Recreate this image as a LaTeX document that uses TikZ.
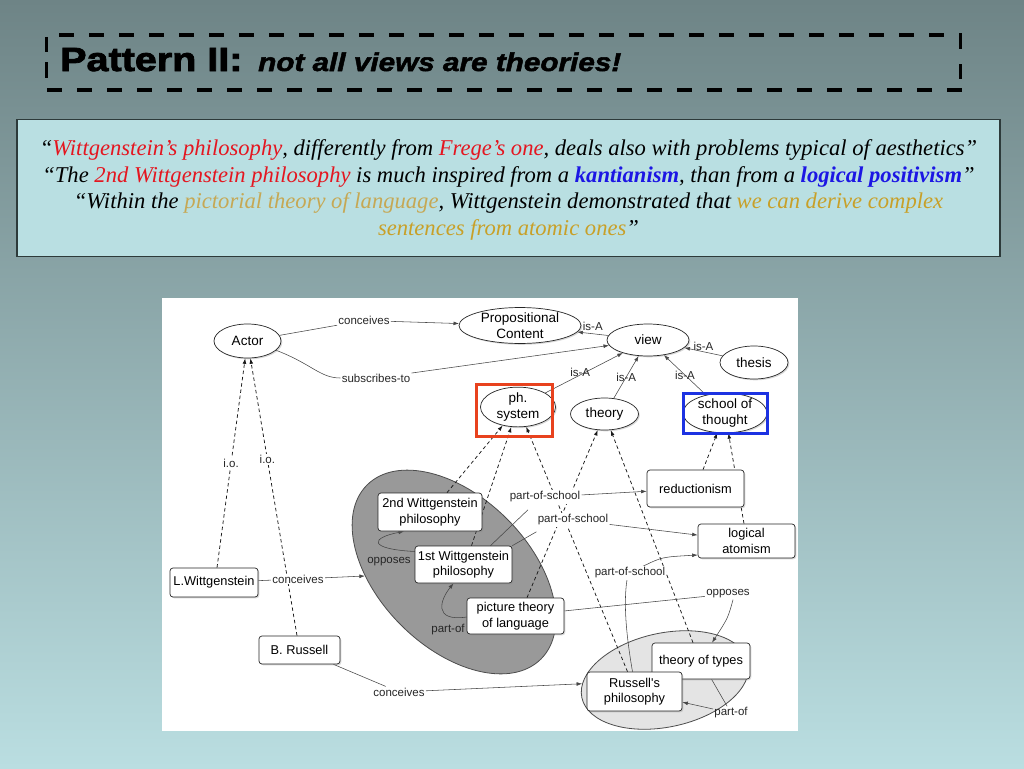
\documentclass[tikz,border=0pt]{standalone}
\usepackage{fontspec}
\setmainfont{Liberation Serif}
\newfontfamily\hv{Liberation Sans}
\newfontfamily\titlefont[FakeStretch=1.18,FakeBold=2.5]{Liberation Sans}
\newfontfamily\titleitfont[FakeStretch=1.16,FakeBold=2]{Liberation Sans}
\usetikzlibrary{shapes.geometric,arrows.meta,shadows}
\definecolor{bgtop}{RGB}{110,132,134}
\definecolor{bgbot}{RGB}{186,222,225}
\definecolor{boxfill}{RGB}{185,223,226}
\definecolor{boxline}{RGB}{45,58,58}
\definecolor{qred}{RGB}{228,22,32}
\definecolor{qblue}{RGB}{28,22,228}
\definecolor{qgold}{RGB}{198,168,84}
\definecolor{qgoldb}{RGB}{200,160,40}
\definecolor{redframe}{RGB}{232,66,30}
\definecolor{blueframe}{RGB}{28,50,226}
\definecolor{setdark}{RGB}{153,153,153}
\definecolor{setlight}{RGB}{228,228,228}
\definecolor{edgec}{RGB}{70,70,70}
\pgfdeclarelayer{sets}
\pgfdeclarelayer{edges}
\pgfsetlayers{sets,edges,main}
\tikzset{
  shad/.style={drop shadow={shadow xshift=1.3pt,shadow yshift=-1.3pt,opacity=0.3}},
  concept/.style={ellipse,draw=black!85,line width=0.7pt,fill=white,inner sep=0pt,
    font=\hv\fontsize{13.5}{15.5}\selectfont,align=center,shad},
  inst/.style={rectangle,rounded corners=3pt,draw=black!85,line width=0.7pt,fill=white,
    inner sep=0pt,font=\hv\fontsize{12.8}{15.5}\selectfont,align=center,shad},
  lbl/.style={font=\hv\fontsize{11.5}{13}\selectfont,inner sep=1.2pt,text=black!85},
  wlbl/.style={lbl,fill=white},
  rel/.style={draw=edgec,line width=0.55pt},
  relarr/.style={rel,-{Latex[length=5.5pt,width=3.8pt]}},
  io/.style={draw=black!90,line width=0.75pt,dash pattern=on 3.5pt off 2.8pt,
    -{Latex[length=5.5pt,width=3.8pt]}},
  titleframe/.style={line width=4.5pt,draw=black},
  quote/.style={anchor=base,inner sep=0pt,font=\itshape\fontsize{22.6}{27}\selectfont},
}
\begin{document}
\begin{tikzpicture}[x=1pt,y=-1pt]
\useasboundingbox (0,0) rectangle (1024,768);
\begin{pgfonlayer}{sets}
  % background
  \shade[top color=bgtop,bottom color=bgbot] (0,0) rectangle (1024,768);
  % title frame
  \draw[titleframe,dash pattern=on 15pt off 15pt] (59,35) -- (962,35);
  \draw[titleframe,dash pattern=on 15pt off 15pt] (47,90) -- (962,90);
  \draw[line width=3.5pt] (46.5,37) -- (46.5,52);
  \draw[line width=3.5pt] (46.5,62) -- (46.5,78);
  \draw[line width=3.5pt] (960.5,35) -- (960.5,49);
  \draw[line width=3.5pt] (960.5,64) -- (960.5,79);
  % quote box
  \draw[fill=boxfill,draw=boxline,line width=1.3pt] (17,119.5) rectangle (1000,256.5);
  % diagram canvas
  \fill[white] (162,298) rectangle (798,731);
  % sets
  \node[ellipse,draw=black!70,fill=setdark,line width=0.8pt,inner sep=0pt,
        minimum width=246pt,minimum height=150pt,rotate=-45] (wset) at (454,572) {};
  \node[ellipse,draw=black!70,fill=setlight,line width=0.8pt,inner sep=0pt,
        minimum width=170pt,minimum height=94pt,rotate=12] (rset) at (665,680) {};
\end{pgfonlayer}

% title
\node[anchor=base west,inner sep=0pt,font=\titlefont\bfseries\fontsize{33.5}{36}\selectfont] (t1) at (60,71) {Pattern II:};
\node[anchor=base west,inner sep=0pt,font=\titleitfont\bfseries\itshape\fontsize{25.6}{30}\selectfont] (t2) at (258,71) {not all views are theories!};

% quotes
\node[quote] (q1) at (508.5,155.5) {“\textcolor{qred}{Wittgenstein’s philosophy}, differently from \textcolor{qred}{Frege’s one}, deals also with problems typical of aesthetics”};
\node[quote] (q2) at (508.5,182) {“The \textcolor{qred}{2nd Wittgenstein philosophy} is much inspired from a \textcolor{qblue}{\bfseries kantianism}, than from a \textcolor{qblue}{\bfseries logical positivism}”};
\node[quote] (q3) at (508.5,208.5) {“Within the \textcolor{qgold}{pictorial theory of language}, Wittgenstein demonstrated that \textcolor{qgoldb}{we can derive complex}};
\node[quote] (q4) at (508.5,235) {\textcolor{qgoldb}{sentences from atomic ones}”};

% concepts
\node[concept,minimum width=67pt,minimum height=34pt] (actor) at (247.5,341) {Actor};
\node[concept,minimum width=122pt,minimum height=34pt] (propc) at (520,325.5) {Propositional\\Content};
\node[concept,minimum width=82pt,minimum height=32pt] (view) at (648,340) {view};
\node[concept,minimum width=68pt,minimum height=33pt] (thesis) at (754,362.5) {thesis};
\node[concept,minimum width=75pt,minimum height=38pt] (phsys) at (518,407) {ph.\\system};
\node[concept,minimum width=68pt,minimum height=32pt] (theory) at (604.5,414) {theory};
\node[concept,minimum width=84pt,minimum height=36pt] (school) at (725,413) {school of\\thought};

% instances / documents
\node[inst,minimum width=97pt,minimum height=37pt] (reduct) at (695.5,488.5) {reductionism};
\node[inst,minimum width=97pt,minimum height=34pt] (logat) at (746.5,541) {logical\\atomism};
\node[inst,minimum width=104pt,minimum height=38pt] (w2) at (430,512) {2nd Wittgenstein\\philosophy};
\node[inst,minimum width=97pt,minimum height=37pt] (w1) at (463.5,564.5) {1st Wittgenstein\\philosophy};
\node[inst,minimum width=97pt,minimum height=36pt] (pict) at (515.5,616) {picture theory\\of language};
\node[inst,minimum width=88pt,minimum height=29pt] (lw) at (214,582.5) {L.Wittgenstein};
\node[inst,minimum width=81pt,minimum height=28pt] (br) at (299.5,650) {B. Russell};
\node[inst,minimum width=98pt,minimum height=36pt] (types) at (701,661) {theory of types};
\node[inst,minimum width=95pt,minimum height=39pt] (rphil) at (634.5,691.5) {Russell's\\philosophy};

% highlight frames
\draw[redframe,line width=3pt] (476,384) rectangle (552,436);
\draw[blueframe,line width=3pt] (683,393) rectangle (767,433);

% relation labels
\node[lbl] (lc1) at (364,320.5) {conceives};
\node[lbl] (lst) at (376,378) {subscribes-to};
\node[wlbl] (lc2) at (298,579) {conceives};
\node[lbl] (lc3) at (399,692) {conceives};
\node[lbl] (lop1) at (389,562) {opposes};
\node[lbl] (lpo1) at (448,630) {part-of};
\node[wlbl] (lps1) at (545,497) {part-of-school};
\node[wlbl] (lps2) at (573,520) {part-of-school};
\node[wlbl] (lps3) at (630,573) {part-of-school};
\node[lbl] (lop2) at (728,594) {opposes};
\node[lbl] (lpo2) at (731,713) {part-of};

\begin{pgfonlayer}{edges}
  % instance-of (dashed)
  \draw[io] ([xshift=3pt]lw.north) -- node[wlbl,pos=0.5]{i.o.} (actor);
  \draw[io] ([xshift=-2.5pt]br.north) -- node[wlbl,pos=0.635]{i.o.} (actor);
  \draw[io] ([xshift=17pt]w2.north) -- (phsys);
  \draw[io] ([xshift=8pt]w1.north) -- (phsys);
  \draw[io] ([xshift=-7pt]rphil.north) -- (phsys);
  \draw[io] ([xshift=11.5pt]pict.north) -- (theory);
  \draw[io] ([xshift=-8pt]types.north) -- (theory);
  \draw[io] ([xshift=7.5pt]reduct.north) -- (school);
  \draw[io] ([xshift=-2.5pt]logat.north) -- (school);
  % relations
  \draw[rel] (actor) -- (lc1);
  \draw[relarr] (lc1) -- (propc);
  \draw[rel] (actor.-18) .. controls (312,364) and (320,378) .. (lst.west);
  \draw[relarr] (lst) -- (view);
  \draw[relarr] (view) -- node[lbl,above=2pt]{is-A} (propc);
  \draw[relarr] (thesis) -- node[lbl,above=0pt]{is-A} (view);
  \draw[relarr] (phsys) -- node[lbl,pos=0.45,yshift=3pt]{is-A} (view);
  \draw[relarr] (theory) -- node[lbl,pos=0.5]{is-A} (view);
  \draw[relarr] (school) -- node[lbl,pos=0.5]{is-A} (view);
  \draw[rel] (lw) -- (lc2);
  \draw[relarr] (lc2) -- (wset);
  \draw[rel] (br) -- (lc3);
  \draw[relarr] (lc3) -- (rset);
  \draw[relarr] ([yshift=13pt]w1.west) .. controls (368,549) and (370,538) .. ([xshift=-26pt]w2.south);
  \draw[relarr] ([yshift=-1pt]pict.west) .. controls (433,622) and (440,600) .. ([xshift=-10pt]w1.south);
  \draw[rel] ([xshift=27pt]w1.north) -- ([shift={(-17pt,-6pt)}]lps1.south);
  \draw[relarr] (lps1) -- (reduct);
  \draw[rel] (w1.north east) -- ([yshift=-5pt]lps2.south west);
  \draw[relarr] (lps2) -- (logat);
  \draw[rel] ([xshift=-2pt]rphil.north) .. controls (627,640) and (623,605) .. ([xshift=-3pt]lps3.south);
  \draw[relarr] ([xshift=13pt]lps3.north) .. controls (662,557) .. ([yshift=-14pt]logat.west);
  \draw[rel] (pict) -- (lop2);
  \draw[relarr] ([xshift=5pt]lop2.south) .. controls (728,618) .. ([xshift=11pt]types.north);
  \draw[rel] (types) -- (lpo2);
  \draw[relarr] (lpo2) -- (rphil);
\end{pgfonlayer}
\end{tikzpicture}
\end{document}
